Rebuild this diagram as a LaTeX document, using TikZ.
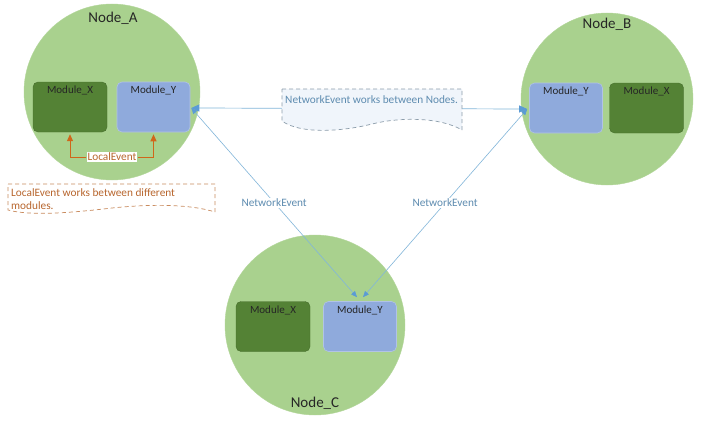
\documentclass[tikz,border=0pt]{standalone}
\usepackage{fontspec}
\setmainfont{Carlito}
\usetikzlibrary{arrows.meta}
\definecolor{cgreen}{HTML}{A9D18E}
\definecolor{dgreen}{HTML}{548235}
\definecolor{lblue}{HTML}{8FAADC}
\definecolor{netline}{HTML}{82B6DA}
\definecolor{nethead}{HTML}{5B9BD5}
\definecolor{nettext}{HTML}{5E8CB0}
\definecolor{locor}{HTML}{D0661A}
\definecolor{loctext}{HTML}{B8662E}
\definecolor{locdash}{HTML}{C98B5E}
\definecolor{netdash}{HTML}{8C9DAB}
\definecolor{calfill}{HTML}{F0F5FB}
\tikzset{
  nodecircle/.style={circle, fill=cgreen, draw=cgreen!90!white, minimum size=176pt, inner sep=0pt},
  nodetitle/.style={font=\fontsize{15}{17}\selectfont, text=black!85},
  modx/.style={rounded corners=5pt, fill=dgreen, draw=dgreen!85!black, line width=0.4pt, minimum width=74pt, minimum height=50pt, inner sep=0pt},
  mody/.style={rounded corners=5pt, fill=lblue, draw=lblue!70!white, line width=0.6pt, minimum width=73pt, minimum height=50pt, inner sep=0pt},
  modtext/.style={font=\fontsize{11}{13}\selectfont, text=black!85, anchor=north, yshift=-3pt, inner sep=1pt},
  netarrow/.style={draw=netline, line width=0.7pt, {Triangle[length=8pt,width=7pt,color=nethead]}-{Triangle[length=8pt,width=7pt,color=nethead]}},
  netdiag/.style={draw=netline, line width=0.6pt, {Triangle[length=6pt,width=5pt,color=nethead]}-{Triangle[length=6pt,width=5pt,color=nethead]}},
  nettxt/.style={font=\fontsize{11.3}{13}\selectfont, text=nettext, fill=white, inner sep=1pt},
  locarrow/.style={draw=locor, line width=1pt, -{Triangle[length=7pt,width=6pt]}, shorten >=2pt},
  loctxt/.style={font=\fontsize{11.3}{13}\selectfont, text=loctext},
}
\begin{document}
\begin{tikzpicture}[x=1pt,y=-1pt]
\useasboundingbox (0,0) rectangle (712,428);
\fill[white] (0,0) rectangle (712,428);

% Node A
\node[nodecircle] (A) at (112,92) {};
\node[nodetitle] (At) at (113,18) {Node\_A};
\node[modx] (AX) at (70,107) {};
\node[modtext] (AXt) at (AX.north) {Module\_X};
\node[mody] (AY) at (153.5,107) {};
\node[modtext] (AYt) at (AY.north) {Module\_Y};

% Node B
\node[nodecircle, minimum size=172pt] (B) at (607,99) {};
\node[nodetitle] (Bt) at (607,24) {Node\_B};
\node[mody] (BY) at (566,108) {};
\node[modtext] (BYt) at (BY.north) {Module\_Y};
\node[modx] (BX) at (646.5,108) {};
\node[modtext] (BXt) at (BX.north) {Module\_X};

% Node C
\node[nodecircle, minimum size=180pt] (C) at (315,325) {};
\node[nodetitle] (Ct) at (315,403) {Node\_C};
\node[modx] (CX) at (273,326.5) {};
\node[modtext] (CXt) at (CX.north) {Module\_X};
\node[mody] (CY) at (360,326.5) {};
\node[modtext] (CYt) at (CY.north) {Module\_Y};

% Local event
\node[loctxt, fill=white, inner sep=1pt] (LE) at (112,157) {LocalEvent};
\draw[locarrow] (LE.west) -| (AX.south);
\draw[locarrow] (LE.east) -| (AY.south);

% Network arrows
\coordinate (CYl) at ([xshift=-3pt,yshift=4pt]CY.north);
\coordinate (CYr) at ([xshift=3pt,yshift=4pt]CY.north);
\coordinate (AYe) at ([xshift=1pt,yshift=-1pt]AY.east);
\coordinate (BYw) at ([xshift=-2pt,yshift=-1pt]BY.west);
\draw[netarrow] (AYe) -- (BYw);
\draw[netdiag] (AYe) -- node[nettxt] (N1) {NetworkEvent} (CYl);
\draw[netdiag] (BYw) -- node[nettxt] (N2) {NetworkEvent} (CYr);

% Network callout
\path[fill=calfill, draw=netdash, line width=0.7pt, dash pattern=on 4pt off 3pt]
  (282,89) -- (462,89) -- (462,130)
  .. controls (440,117) and (400,117) .. (372,124)
  .. controls (340,132) and (300,134) .. (282,121) -- cycle;
\node[font=\fontsize{11.3}{13}\selectfont, text=nettext, anchor=west, inner sep=0pt] (NC) at (285,100) {NetworkEvent works between Nodes.};

% Local callout
\path[fill=white, draw=locdash, line width=0.7pt, dash pattern=on 4pt off 3pt]
  (8,184) -- (215,184) -- (215,212)
  .. controls (190,204) and (150,204) .. (112,208)
  .. controls (70,213) and (30,216) .. (8,210) -- cycle;
\node[loctxt, anchor=north west, align=left, inner sep=0pt, font=\fontsize{11.3}{13.5}\selectfont] (LC) at (11,188) {LocalEvent works between different\\modules.};
\end{tikzpicture}
\end{document}
